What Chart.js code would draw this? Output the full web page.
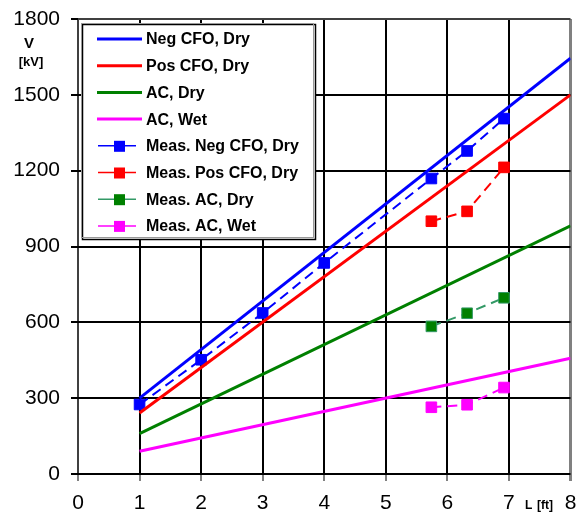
<!DOCTYPE html>
<html>
<head>
<meta charset="utf-8">
<script src="https://cdn.jsdelivr.net/npm/chart.js@4"></script>
<style>
  body { margin: 0; background: #fff; }
  #wrap { width: 579px; height: 515px; }
</style>
</head>
<body>
<div id="wrap"><canvas id="vChart" width="579" height="515"></canvas></div>
<script>
// Calculated lines, read at L = 1 ft and L = 8 ft
const lineLength = [1, 8];
const negCfoDry = [300, 1645];
const posCfoDry = [241, 1500];
const acDry = [160, 982];
const acWet = [90, 458];

// Measured points
const measNegLength = [1, 2, 3, 4, 5.74, 6.32, 6.92];
const measNegCfoDry = [275, 452, 637, 835, 1169, 1278, 1406];
const measLength = [5.74, 6.32, 6.92];
const measPosCfoDry = [1000, 1039, 1213];
const measAcDry = [584, 636, 697];
const measAcWet = [264, 274, 342];

const xTicks = [0, 1, 2, 3, 4, 5, 6, 7, 8];
const yTicks = [0, 300, 600, 900, 1200, 1500, 1800];

function pts(xs, ys) {
    return xs.map((x, i) => ({ x: x, y: ys[i] }));
}

const FONT = '"Liberation Sans", Arial, sans-serif';

function solid(label, xs, ys, color) {
    return {
        label: label,
        data: pts(xs, ys),
        borderColor: color,
        borderWidth: 3,
        pointRadius: 0,
        showLine: true,
        fill: false
    };
}

function meas(label, xs, ys, lineColor, pointColor) {
    return {
        label: label,
        data: pts(xs, ys),
        borderColor: lineColor,
        borderWidth: 2,
        borderDash: [10, 6],
        pointStyle: 'rect',
        pointRadius: 7.5,
        pointBackgroundColor: pointColor,
        pointBorderColor: lineColor,
        pointBorderWidth: 1,
        showLine: true,
        fill: false
    };
}

const datasets = [
    solid('Neg CFO, Dry', lineLength, negCfoDry, '#0000FF'),
    solid('Pos CFO, Dry', lineLength, posCfoDry, '#FF0000'),
    solid('AC, Dry', lineLength, acDry, '#008000'),
    solid('AC, Wet', lineLength, acWet, '#FF00FF'),
    meas('Meas. Neg CFO, Dry', measNegLength, measNegCfoDry, '#0000FF', '#0000FF'),
    meas('Meas. Pos CFO, Dry', measLength, measPosCfoDry, '#FF0000', '#FF0000'),
    meas('Meas. AC, Dry', measLength, measAcDry, '#339966', '#008000'),
    meas('Meas. AC, Wet', measLength, measAcWet, '#FF00FF', '#FF00FF')
];

// legend box and axis titles drawn inside the plot like the original
const boxLegend = {
    id: 'boxLegend',
    afterDraw(chart) {
        const ctx = chart.ctx;
        ctx.save();
        // box
        ctx.fillStyle = '#fff';
        ctx.fillRect(82, 24, 233, 215);
        ctx.strokeStyle = '#000';
        ctx.lineWidth = 1.5;
        ctx.strokeRect(82.5, 24.5, 233, 215);
        ctx.strokeStyle = '#999';
        ctx.lineWidth = 1;
        ctx.strokeRect(81.5, 23.5, 232, 214);

        ctx.font = 'bold 16px ' + FONT;
        ctx.textBaseline = 'middle';
        ctx.textAlign = 'left';
        chart.data.datasets.forEach((ds, i) => {
            const y = 39 + i * 26.7;
            ctx.strokeStyle = ds.borderColor;
            ctx.setLineDash([]);
            if (ds.pointRadius > 0) {
                ctx.lineWidth = 1.5;
                ctx.beginPath();
                ctx.moveTo(98, y);
                ctx.lineTo(136, y);
                ctx.stroke();
                ctx.fillStyle = ds.pointBackgroundColor;
                ctx.fillRect(114, y - 5, 11, 11);
            } else {
                ctx.lineWidth = 3;
                ctx.beginPath();
                ctx.moveTo(97, y);
                ctx.lineTo(142, y);
                ctx.stroke();
            }
            ctx.fillStyle = '#000';
            ctx.fillText(ds.label, 146, y + 1);
        });

        // axis titles
        ctx.fillStyle = '#000';
        ctx.textAlign = 'center';
        ctx.font = 'bold 15px ' + FONT;
        ctx.fillText('V', 29, 44);
        ctx.font = 'bold 13px ' + FONT;
        ctx.fillText('[kV]', 31, 62);
        ctx.textAlign = 'left';
        ctx.textBaseline = 'alphabetic';
        ctx.font = 'bold 12px ' + FONT;
        ctx.fillText('L', 525, 509);
        ctx.fillText('[ft]', 537, 509);
        ctx.restore();
    }
};

const ctx = document.querySelector('#vChart').getContext('2d');

const vChart = new Chart(ctx, {
    type: 'scatter',
    data: { datasets: datasets },
    options: {
        responsive: false,
        animation: false,
        layout: { padding: { top: 19, right: 7, left: 0, bottom: 0 } },
        plugins: {
            legend: { display: false },
            tooltip: { enabled: false }
        },
        scales: {
            x: {
                type: 'linear',
                min: 0,
                max: 8,
                afterBuildTicks: (axis) => { axis.ticks = xTicks.map(v => ({ value: v })); },
                afterFit: (axis) => {
                    axis.height = 41;
                    axis.paddingLeft = 0;
                    axis.paddingRight = 0;
                },
                ticks: {
                    color: '#000',
                    font: { family: FONT, size: 21 },
                    padding: 10,
                    maxRotation: 0,
                    callback: (v) => String(v)
                },
                grid: {
                    color: (c) => c.tick && c.tick.value === 8 ? '#808080' : (c.tick && c.tick.value === 0 ? '#404040' : '#000'),
                    lineWidth: (c) => c.tick && c.tick.value === 8 ? 3 : 2,
                    tickLength: 7,
                    tickColor: '#808080'
                },
                border: { display: false }
            },
            y: {
                type: 'linear',
                min: 0,
                max: 1800,
                afterBuildTicks: (axis) => { axis.ticks = yTicks.map(v => ({ value: v })); },
                afterFit: (axis) => {
                    axis.width = 78;
                    axis.paddingTop = 0;
                    axis.paddingBottom = 0;
                },
                ticks: {
                    color: '#000',
                    font: { family: FONT, size: 21 },
                    padding: 11,
                    callback: (v) => String(v)
                },
                grid: {
                    color: (c) => c.tick && c.tick.value === 1800 ? '#404040' : '#000',
                    lineWidth: 2,
                    tickLength: 7,
                    tickColor: '#000'
                },
                border: { display: false }
            }
        }
    },
    plugins: [boxLegend]
});
</script>
</body>
</html>
